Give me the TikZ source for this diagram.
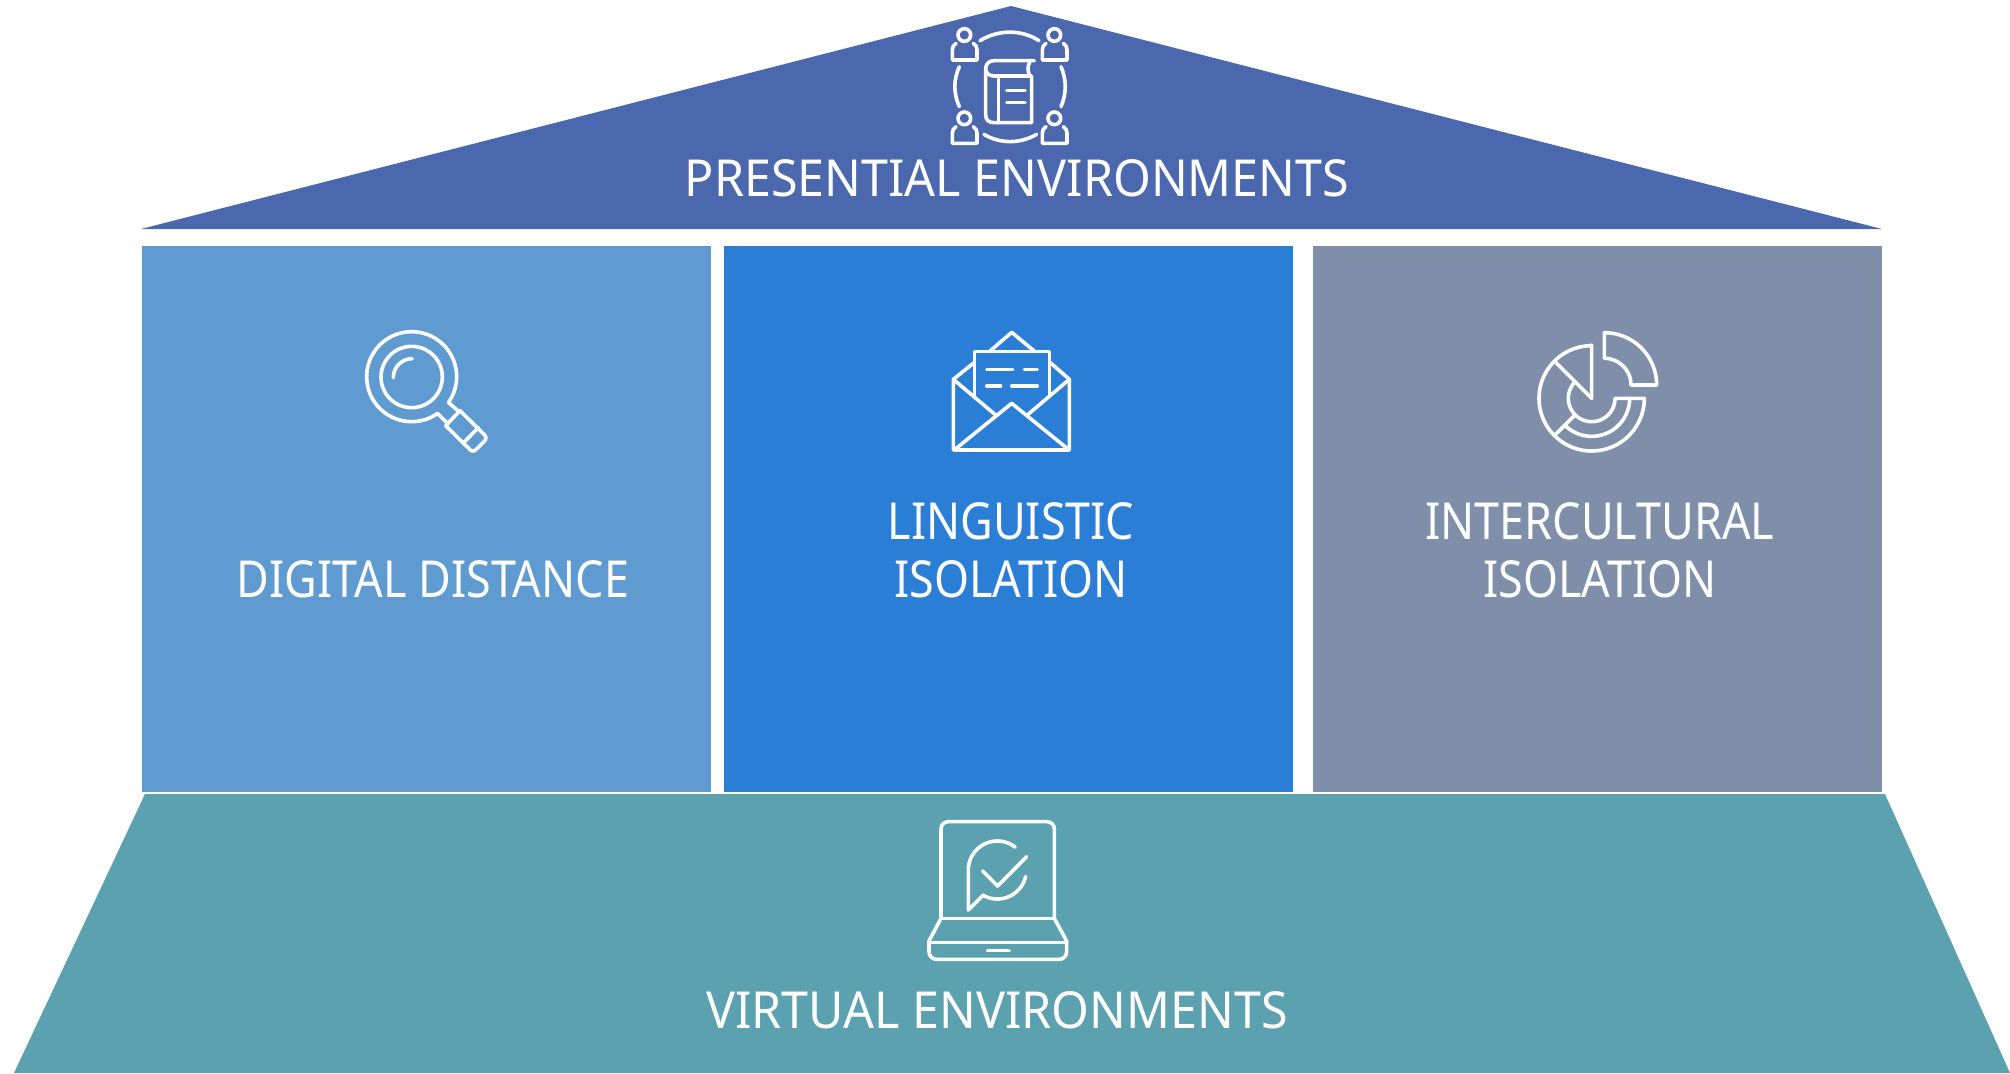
\documentclass[tikz,border=0pt]{standalone}
\usepackage{fontspec}
\setmainfont{Noto Sans}
\newfontfamily\wideface{Noto Sans}[FakeStretch=0.95]
\newfontfamily\narrowface{Noto Sans}[FakeStretch=0.88]
\usetikzlibrary{calc}
\definecolor{roofc}{HTML}{4B68AE}
\definecolor{panela}{HTML}{5F9BD0}
\definecolor{panelb}{HTML}{2B7ED6}
\definecolor{panelc}{HTML}{7F8FAA}
\definecolor{basec}{HTML}{5BA1AF}
\tikzset{
  label text/.style={text=white,inner sep=0pt,anchor=base},
  big label/.style={label text,font=\wideface\fontsize{25.5pt}{29pt}\selectfont\bfseries},
  small label/.style={label text,font=\narrowface\fontsize{25.5pt}{29pt}\selectfont\bfseries},
  icon/.style={draw=white,line width=1.8pt,line cap=round,line join=round},
  zoomed/.style={x=0.16667pt,y=-0.16667pt},
}
\newcommand{\persona}[2]{%
  \draw[icon] (#1,#2) circle[radius=19];
  \draw[icon] ($(#1,#2)+(-25,25)$) .. controls ($(#1,#2)+(-33,30)$) and ($(#1,#2)+(-36,36)$) .. ($(#1,#2)+(-36,45)$) -- ($(#1,#2)+(-36,75)$) -- ($(#1,#2)+(38,75)$) -- ($(#1,#2)+(38,45)$) .. controls ($(#1,#2)+(38,36)$) and ($(#1,#2)+(35,30)$) .. ($(#1,#2)+(27,25)$);
}
\begin{document}
\begin{tikzpicture}[x=0.5pt,y=-0.5pt]
\useasboundingbox (0,0) rectangle (2010,1073);
\fill[white] (0,0) rectangle (2010,1073);
\fill[roofc] (1011,6) -- (1882,229) -- (141,229) -- cycle;
\fill[panela] (142,246) rectangle (711,792);
\fill[panelb] (724,246) rectangle (1293,792);
\fill[panelc] (1313,246) rectangle (1882,792);
\fill[basec] (145,794) -- (1885,794) -- (2010,1073) -- (14,1073) -- cycle;
\node[big label] (presential) at (1017,196) {PRESENTIAL ENVIRONMENTS};
\node[small label] (digital) at (433,597) {DIGITAL DISTANCE};
\node[small label] (ling1) at (1011,539) {LINGUISTIC};
\node[small label] (ling2) at (1011,597) {ISOLATION};
\node[small label] (inter1) at (1600,539) {INTERCULTURAL};
\node[small label] (inter2) at (1600,597) {ISOLATION};
\node[big label] (virtual) at (997,1028) {VIRTUAL ENVIRONMENTS};
\begin{scope}[shift={(920,0)},zoomed]
\persona{133}{105}\persona{403}{105}\persona{133}{355}\persona{403}{355}
\draw[icon] (180,122) .. controls (235,88) and (305,88) .. (357,122);
\draw[icon] (118,200) .. controls (100,240) and (100,280) .. (118,320);
\draw[icon] (423,200) .. controls (440,240) and (440,280) .. (423,320);
\draw[icon] (192,403) .. controls (240,432) and (300,432) .. (350,403);
\draw[icon] (343,182) -- (222,182) .. controls (207,182) and (197,192) .. (197,207) -- (197,345) .. controls (197,360) and (207,368) .. (222,368) -- (335,368) -- (335,228) -- (222,228) .. controls (207,228) and (197,218) .. (197,207);
\draw[icon] (330,184) .. controls (322,198) and (322,214) .. (330,228);
\draw[icon] (235,228) -- (235,368);
\draw[icon] (260,272) -- (315,272);
\draw[icon] (260,308) -- (315,308);
\end{scope}
\begin{scope}[shift={(350,315)},zoomed]
\draw[icon] (185,186) circle[radius=92];
\draw[icon] plot[domain=55:395,samples=80] ({185+135*cos(\x)},{185+135*sin(\x)});
\draw[icon] plot[domain=180:270,samples=30] ({187+57*cos(\x)},{188+57*sin(\x)});
\draw[icon] (295,262) -- (327,290);
\draw[icon] (262,295) -- (293,325);
\draw[icon] (330,287) -- (402,358) .. controls (410,366) and (410,372) .. (402,380) -- (380,402) .. controls (372,410) and (365,410) .. (358,402) -- (287,332) -- cycle;
\draw[icon] (385,338) -- (342,382);
\end{scope}
\begin{scope}[shift={(940,320)},zoomed]
\draw[icon] (103,127) -- (40,178) -- (40,390) -- (388,390) -- (388,178) -- (330,127);
\draw[icon] (40,178) -- (167,285);
\draw[icon] (388,178) -- (262,285);
\draw[icon] (45,388) -- (215,250) -- (385,388);
\draw[icon] (103,225) -- (103,95) -- (328,95) -- (328,225);
\draw[icon] (148,95) -- (215,37) -- (285,95);
\draw[icon] (140,148) -- (218,148);
\draw[icon] (253,148) -- (292,148);
\draw[icon] (140,198) -- (182,198);
\draw[icon] (215,198) -- (292,198);
\end{scope}
\begin{scope}[shift={(1525,320)},zoomed]
\draw[icon] plot[domain=270:360,samples=30] ({238+157*cos(\x)},{195+157*sin(\x)}) -- (318,195) -- plot[domain=360:270,samples=30] ({238+80*cos(\x)},{195+80*sin(\x)}) -- cycle;
\draw[icon] (200,235) -- (200,75) -- plot[domain=270:0,samples=80] ({200+158*cos(\x)},{235+158*sin(\x)}) -- (270,235) -- plot[domain=0:225,samples=60] ({200+70*cos(\x)},{235+70*sin(\x)});
\draw[icon] (200,235) -- (90,125);
\draw[icon] plot[domain=0:135,samples=50] ({200+114*cos(\x)},{235+114*sin(\x)});
\draw[icon] (150,285) -- (88,347);
\end{scope}
\begin{scope}[shift={(915,810)},zoomed]
\draw[icon] (78,325) -- (78,57) .. controls (78,44) and (88,35) .. (100,35) -- (395,35) .. controls (408,35) and (418,44) .. (418,57) -- (418,325);
\draw[icon] (78,325) -- (418,325);
\draw[icon] (78,325) -- (42,393) -- (42,425) .. controls (42,438) and (52,448) .. (65,448) -- (432,448) .. controls (445,448) and (455,438) .. (455,425) -- (455,393) -- (418,325);
\draw[icon] (42,397) -- (455,397);
\draw[icon] (218,422) -- (282,422);
\draw[icon] plot[domain=308:180,samples=50] ({247+87*cos(\x)},{180+87*sin(\x)}) -- (160,300) -- (205,255) -- plot[domain=119:13,samples=50] ({247+87*cos(\x)},{180+87*sin(\x)});
\draw[icon] (203,183) -- (248,228) -- (335,140);
\end{scope}
\end{tikzpicture}
\end{document}
